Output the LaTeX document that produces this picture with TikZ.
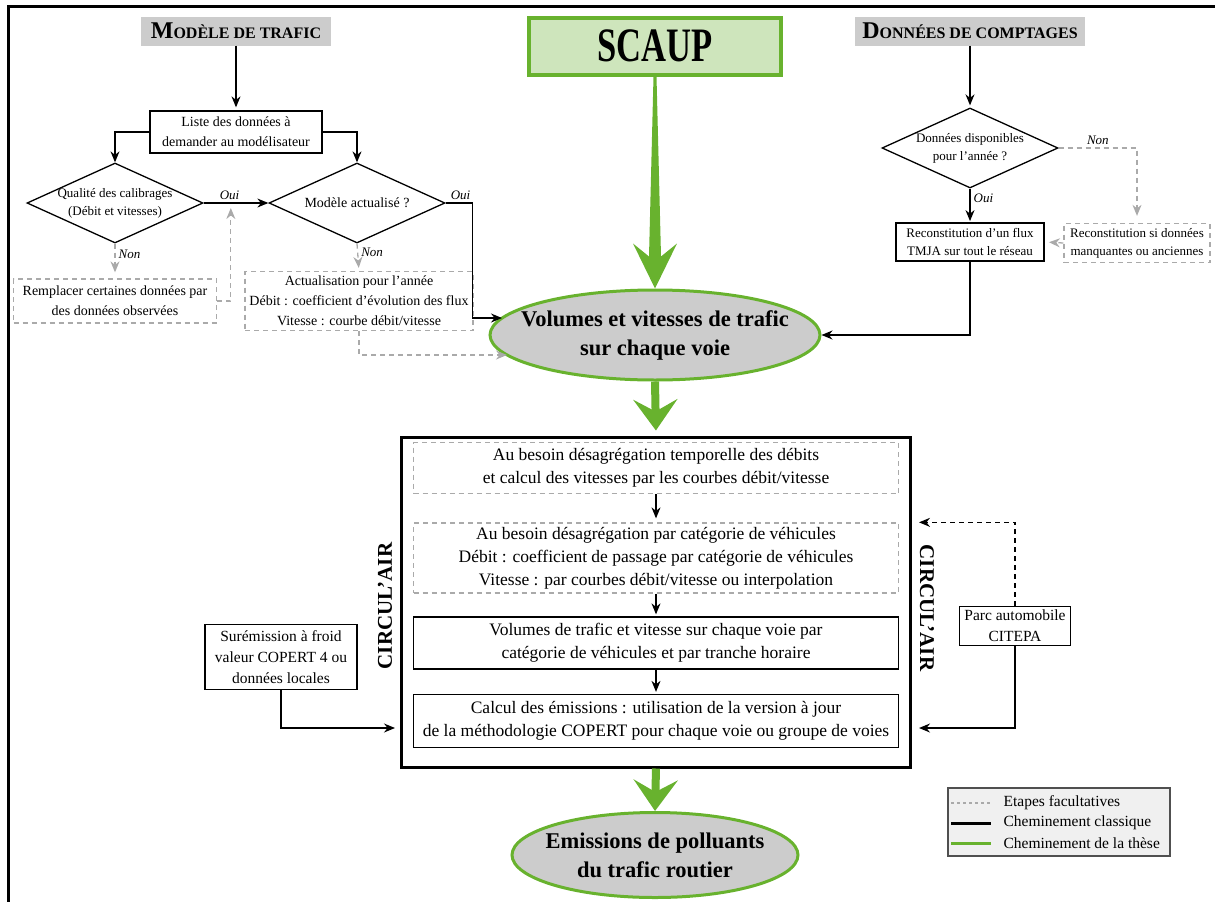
\documentclass[tikz,border=0pt]{standalone}
\usepackage{fontspec}
\setmainfont{Liberation Serif}
\newfontfamily\narrowfont[FakeStretch=0.72]{Liberation Serif}
\usetikzlibrary{arrows.meta,positioning,shapes.geometric,calc}

\definecolor{thesegreen}{RGB}{104,178,46}
\definecolor{scaupfill}{RGB}{206,229,188}
\definecolor{hdrgrey}{RGB}{204,204,204}
\definecolor{optgrey}{RGB}{170,170,170}
\definecolor{legfill}{RGB}{240,240,240}
\definecolor{legdraw}{RGB}{80,80,80}

\newcommand{\smallfnt}{\fontsize{13}{18}\selectfont}
\newcommand{\medfnt}{\fontsize{14}{20}\selectfont}
\newcommand{\sidefnt}{\fontsize{15.5}{21}\selectfont}
\newcommand{\innerfnt}{\fontsize{17.5}{23}\selectfont}
\newcommand{\bigfnt}{\fontsize{22.5}{29}\selectfont}
\newcommand{\hdrtext}[2]{{\fontsize{24}{24}\selectfont #1}{\fontsize{16}{16}\selectfont #2}}

\begin{document}
\begin{tikzpicture}[
  x=1pt,y=-1pt,
  hdr/.style={rectangle,fill=hdrgrey,minimum height=29pt,inner sep=3pt,font=\bfseries},
  scaupbox/.style={rectangle,draw=thesegreen,line width=4pt,fill=scaupfill,minimum width=252pt,minimum height=57pt,font=\narrowfont\fontsize{48}{48}\selectfont\bfseries},
  box/.style={rectangle,draw,line width=1.3pt,align=center,inner sep=2pt,font=\medfnt},
  optbox/.style={box,draw=optgrey,dash pattern=on 5pt off 4pt},
  stage/.style={box,minimum width=485pt,font=\innerfnt},
  optstage/.style={stage,draw=optgrey,dash pattern=on 5pt off 4pt},
  decision/.style={diamond,draw,line width=1.3pt,aspect=2.2,align=center,inner sep=-3pt,minimum width=176pt,minimum height=80pt,font=\smallfnt},
  result/.style={ellipse,draw=thesegreen,line width=3pt,fill=hdrgrey,align=center,inner xsep=-25pt,inner ysep=0pt,font=\bigfnt\bfseries},
  arrow/.style={-{Stealth[length=11pt,width=9pt]},line width=1.3pt},
  optarrow/.style={arrow,draw=optgrey,dash pattern=on 5pt off 4pt},
  greenarrow/.style={-{Stealth[length=31pt,width=44pt,inset=12pt]},line width=8pt,draw=thesegreen},
  lab/.style={font=\smallfnt\itshape,inner sep=3pt},
  legtext/.style={anchor=west,inner sep=2pt,font=\sidefnt}
]
\useasboundingbox (0,0) rectangle (1215,902);
\draw[line width=3pt] (1215,6) -- (8,6) -- (8,902);

% sources
\node[hdr,minimum width=190pt] (modele) at (236,31) {\hdrtext{M}{ODÈLE DE TRAFIC}};
\node[scaupbox] (scaup) at (655,46) {SCAUP};
\node[hdr,minimum width=230pt] (comptages) at (970,31) {\hdrtext{D}{ONNÉES DE COMPTAGES}};

% modele de trafic
\node[box,minimum width=172pt,minimum height=42pt] (liste) at (236,132) {Liste des données à\\demander au modélisateur};
\node[decision] (qual) at (115,203) {Qualité des calibrages\\(Débit et vitesses)};
\node[decision,font=\medfnt] (modact) at (357,203) {Modèle actualisé ?};
\node[optbox,minimum width=203pt,minimum height=44pt] (rempl) at (115,301) {Remplacer certaines données par\\des données observées};
\node[optbox,minimum width=228pt,minimum height=59pt] (actualis) at (359,301) {Actualisation pour l’année\\Débit : coefficient d’évolution des flux\\Vitesse : courbe débit/vitesse};

% comptages
\node[decision] (dispo) at (970,148) {Données disponibles\\pour l’année ?};
\node[box,line width=1.8pt,minimum width=148pt,minimum height=38pt,font=\smallfnt] (tmja) at (970,242) {Reconstitution d’un flux\\TMJA sur tout le réseau};
\node[optbox,minimum width=146pt,minimum height=39pt,font=\smallfnt] (manq) at (1137,243) {Reconstitution si données\\manquantes ou anciennes};

% volumes
\node[result,minimum width=330pt,minimum height=90pt] (vol) at (655,335) {Volumes et vitesses de trafic\\sur chaque voie};

% circul'air
\node[draw,line width=3pt,minimum width=509pt,minimum height=330pt] (circ) at (656,602) {};
\node[optstage,minimum height=51pt] (inA) at (656,468) {Au besoin désagrégation temporelle des débits\\et calcul des vitesses par les courbes débit/vitesse};
\node[optstage,minimum height=70pt] (inB) at (656,558) {Au besoin désagrégation par catégorie de véhicules\\Débit : coefficient de passage par catégorie de véhicules\\Vitesse : par courbes débit/vitesse ou interpolation};
\node[stage,minimum height=52pt] (inC) at (656,643) {Volumes de trafic et vitesse sur chaque voie par\\catégorie de véhicules et par tranche horaire};
\node[stage,minimum height=53pt] (inD) at (656,721) {Calcul des émissions : utilisation de la version à jour\\de la méthodologie COPERT pour chaque voie ou groupe de voies};
\node[rotate=90,font=\fontsize{21}{21}\selectfont\bfseries] (circleft) at (385,606) {CIRCUL’AIR};
\node[rotate=-90,font=\fontsize{21}{21}\selectfont\bfseries] (circright) at (927,608) {CIRCUL’AIR};
\node[box,minimum width=152pt,minimum height=65pt,font=\sidefnt] (surem) at (281,657) {Surémission à froid\\valeur COPERT 4 ou\\données locales};
\node[box,minimum width=111pt,minimum height=39pt,font=\sidefnt] (parc) at (1015,626) {Parc automobile\\CITEPA};

% sortie
\node[result,minimum width=286pt,minimum height=85pt,inner xsep=-20pt] (emis) at (655,855) {Emissions de polluants\\du trafic routier};

% legende
\node[draw=legdraw,fill=legfill,line width=1.2pt,minimum width=222pt,minimum height=68pt] (legend) at (1059,822) {};
\node[legtext] (legopt) at ($(legend.west)+(54,-19)$) {Etapes facultatives};
\node[legtext] (legclass) at ($(legend.west)+(54,1)$) {Cheminement classique};
\node[legtext] (legthese) at ($(legend.west)+(54,21)$) {Cheminement de la thèse};
\draw[optgrey,line width=2pt,dash pattern=on 3pt off 3pt] ($(legopt.west)+(-50,0)$) -- ($(legopt.west)+(-10,0)$);
\draw[line width=3pt] ($(legclass.west)+(-50,0)$) -- ($(legclass.west)+(-10,0)$);
\draw[thesegreen,line width=3pt] ($(legthese.west)+(-50,0)$) -- ($(legthese.west)+(-10,0)$);

% fleches modele
\draw[arrow,shorten >=3pt] (modele) -- (liste);
\draw[arrow] (liste.west) -| (qual.north);
\draw[arrow] (liste.east) -| (modact.north);
\draw[arrow] (qual.east) -- node[lab,above,pos=0.4] (oui1) {Oui} (modact.west);
\draw[optarrow,shorten >=6pt] (qual.south) -- node[lab,right,pos=0.3] (non1) {Non} (rempl.north);
\coordinate (backup) at ($(qual.east)!0.42!(modact.west)$);
\draw[optarrow,shorten >=5pt] (rempl.east) -| (backup);
\draw[optarrow,shorten >=3pt] (modact.south) -- node[lab,right,pos=0.3] (non2) {Non} (actualis.north);
\draw[arrow] (modact.east) -- node[lab,above,pos=0.55] (oui2) {Oui} ++(27,0) |- ($(vol.center)+(-153,-17)$);
\draw[optarrow] (actualis.south) |- ($(vol.center)+(-148,20)$);

% fleches comptages
\draw[arrow,shorten >=2pt] (comptages) -- (dispo);
\draw[optarrow,shorten >=7pt] (dispo.east) -| node[lab,above,pos=0.25] (non3) {Non} (manq.north);
\draw[arrow,shorten >=1pt] (dispo.south) -- node[lab,right,pos=0.3] (oui3) {Oui} (tmja.north);
\draw[optarrow,shorten >=4pt] (manq.west) -- (tmja.east);
\draw[arrow] (tmja.south) |- (vol.east);

% cheminement de la these
\fill[thesegreen] ($(scaup.south)+(-1.5,0)$) -- ($(scaup.south)+(1.5,0)$) -- ($(vol.north)+(6,-32)$) -- ($(vol.north)+(22,-45)$) -- (vol.north) -- ($(vol.north)+(-22,-45)$) -- ($(vol.north)+(-6,-32)$) -- cycle;
\draw[greenarrow,shorten >=5pt] (vol.south) -- (circ.north);
\draw[greenarrow] (circ.south) -- (emis.north);

% fleches circul'air
\draw[arrow,shorten >=4pt] (inA) -- (inB);
\draw[arrow,shorten >=2pt] (inB) -- (inC);
\draw[arrow,shorten >=2pt] (inC) -- (inD);
\draw[arrow] (surem.south) |- ($(circ.west |- inD.center)+(-5,7)$);
\draw[arrow,dash pattern=on 5pt off 4pt] (parc.north) |- ($(circ.east |- inB.north)+(7,0)$);
\draw[arrow] (parc.south) |- ($(circ.east |- inD.center)+(7,7)$);
\end{tikzpicture}
\end{document}
